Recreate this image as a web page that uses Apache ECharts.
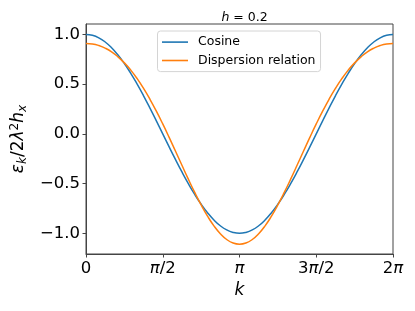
<!DOCTYPE html>
<html>
<head>
<meta charset="utf-8">
<script src="https://cdn.jsdelivr.net/npm/echarts@6/dist/echarts.min.js"></script>
<style>html,body{margin:0;padding:0;background:#fff;}#c{width:415px;height:311px;}</style>
</head>
<body>
<div id="c"></div>
<script>
// sample index grid: k = i * pi / 24, i = 0..48
var sampleCount = 49;
var cosine = [1, 0.991, 0.966, 0.924, 0.866, 0.793, 0.707, 0.609, 0.5, 0.383, 0.259, 0.131, 0,
  -0.131, -0.259, -0.383, -0.5, -0.609, -0.707, -0.793, -0.866, -0.924, -0.966, -0.991, -1,
  -0.991, -0.966, -0.924, -0.866, -0.793, -0.707, -0.609, -0.5, -0.383, -0.259, -0.131, 0,
  0.131, 0.259, 0.383, 0.5, 0.609, 0.707, 0.793, 0.866, 0.924, 0.966, 0.991, 1];
var dispersion = [0.910, 0.905, 0.889, 0.862, 0.825, 0.775, 0.714, 0.641, 0.555, 0.457, 0.348, 0.228, 0.100,
  -0.035, -0.175, -0.316, -0.455, -0.589, -0.714, -0.827, -0.925, -1.004, -1.062, -1.098, -1.110,
  -1.098, -1.062, -1.004, -0.925, -0.827, -0.714, -0.589, -0.455, -0.316, -0.175, -0.035, 0.100,
  0.228, 0.348, 0.457, 0.555, 0.641, 0.714, 0.775, 0.825, 0.862, 0.889, 0.905, 0.910];
var xTickLabels = ['0', '{i|π}/2', '{i|π}', '3{i|π}/2', '2{i|π}'];
var yTickValues = [-1.0, -0.5, 0.0, 0.5, 1.0];
var yTickLabels = ['−1.0', '−0.5', '0.0', '0.5', '1.0'];
var seriesNames = ['Cosine', 'Dispersion relation'];

var xTickValues = xTickLabels.map(function (_, i) { return i * Math.PI / 2; });
function pairs(arr) {
  return arr.map(function (v, i) { return [i * Math.PI / (sampleCount - 1) * 2, v]; });
}
var FONT = 'DejaVu Sans';
var chart = echarts.init(document.getElementById('c'), null, {renderer: 'canvas'});
chart.setOption({
  animation: false,
  backgroundColor: '#fff',
  textStyle: {fontFamily: FONT},
  title: {
    text: '{i|h} = 0.2',
    left: 239.5, top: 6, textAlign: 'center',
    textStyle: {fontFamily: FONT, fontSize: 12.5, fontWeight: 'normal', color: '#000',
      rich: {i: {fontFamily: FONT, fontSize: 12.5, fontStyle: 'italic', color: '#000'}}}
  },
  grid: {left: 86, right: 22, top: 24, bottom: 57, show: true, borderColor: '#444', borderWidth: 1, backgroundColor: 'transparent'},
  legend: {
    orient: 'vertical', left: 157.5, top: 31,
    data: seriesNames,
    icon: 'rect', itemWidth: 26, itemHeight: 1.6, itemGap: 4.2,
    padding: [4, 5, 4, 4.5],
    backgroundColor: 'rgba(255,255,255,0.85)', borderColor: '#d4d4d4', borderWidth: 1, borderRadius: 3,
    textStyle: {fontFamily: FONT, fontSize: 12.5, color: '#000', lineHeight: 14.2, padding: [0, 0, 0, 5]}
  },
  xAxis: {
    type: 'value', min: 0, max: 2 * Math.PI,
    name: 'k', nameLocation: 'middle', nameGap: 27,
    nameTextStyle: {fontFamily: FONT, fontSize: 17, fontStyle: 'italic', color: '#000'},
    splitLine: {show: false},
    axisLine: {show: true, onZero: false, lineStyle: {color: '#444', width: 1}},
    axisTick: {show: true, inside: false, length: 3.5, customValues: xTickValues, lineStyle: {color: '#444', width: 1}},
    axisLabel: {
      customValues: xTickValues, margin: 6, color: '#000', fontFamily: FONT, fontSize: 16.5,
      formatter: function (v) { return xTickLabels[Math.round(v / (Math.PI / 2))]; },
      rich: {i: {fontFamily: FONT, fontSize: 16.5, fontStyle: 'italic', color: '#000'}}
    }
  },
  yAxis: {
    type: 'value', min: -1.208, max: 1.105,
    name: '{i|ε}{s|k}{n|/2}{i|λ}{p|2}{i|h}{s|x}', nameLocation: 'middle', nameGap: 48, nameRotate: 90,
    nameTextStyle: {
      fontFamily: FONT, fontSize: 17, color: '#000', lineHeight: 26,
      rich: {
        i: {fontFamily: FONT, fontSize: 17, fontStyle: 'italic', color: '#000', lineHeight: 20, verticalAlign: 'middle'},
        n: {fontFamily: FONT, fontSize: 17, color: '#000', lineHeight: 20, verticalAlign: 'middle'},
        s: {fontFamily: FONT, fontSize: 12, fontStyle: 'italic', color: '#000', lineHeight: 14, verticalAlign: 'bottom'},
        p: {fontFamily: FONT, fontSize: 12, color: '#000', lineHeight: 14, verticalAlign: 'top'}
      }
    },
    splitLine: {show: false},
    axisLine: {show: true, onZero: false, lineStyle: {color: '#444', width: 1}},
    axisTick: {show: true, inside: false, length: 3.5, customValues: yTickValues, lineStyle: {color: '#444', width: 1}},
    axisLabel: {
      customValues: yTickValues, margin: 6, color: '#000', fontFamily: FONT, fontSize: 16.5,
      formatter: function (v) {
        for (var j = 0; j < yTickValues.length; j++) { if (Math.abs(yTickValues[j] - v) < 1e-6) return yTickLabels[j]; }
        return '';
      }
    }
  },
  series: [
    {name: seriesNames[0], type: 'line', data: pairs(cosine), showSymbol: false, symbol: 'none', smooth: true,
      itemStyle: {color: '#1f77b4'}, lineStyle: {color: '#1f77b4', width: 1.5}},
    {name: seriesNames[1], type: 'line', data: pairs(dispersion), showSymbol: false, symbol: 'none', smooth: true,
      itemStyle: {color: '#ff7f0e'}, lineStyle: {color: '#ff7f0e', width: 1.5}}
  ]
});
</script>
</body>
</html>
